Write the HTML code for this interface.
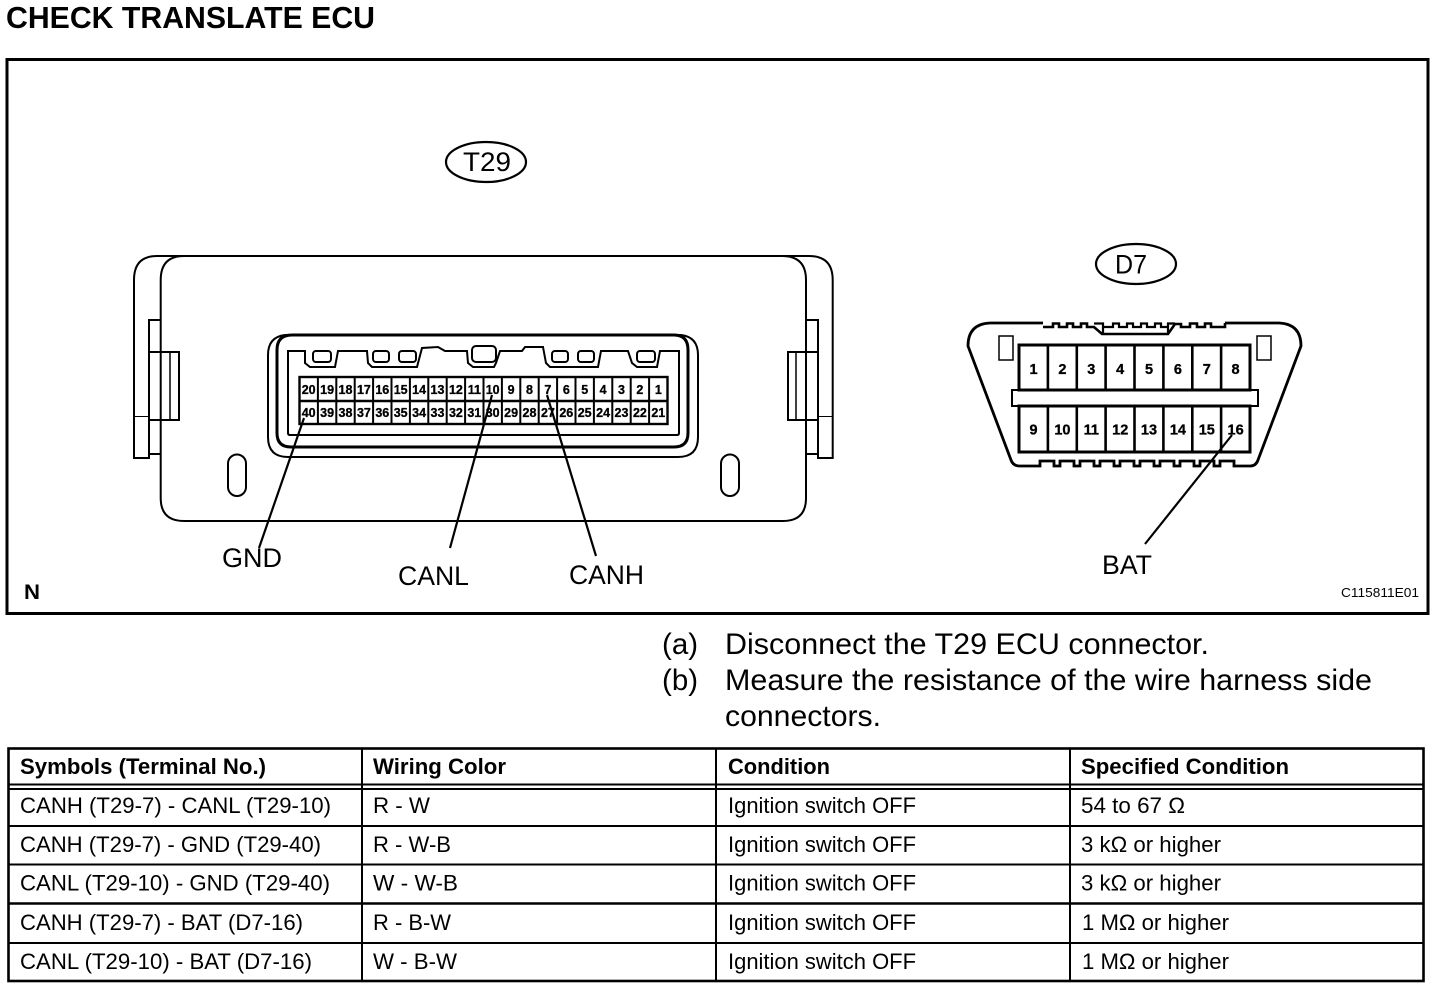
<!DOCTYPE html>
<html lang="en">
<head>
<meta charset="utf-8">
<title>Check Translate ECU</title>
<style>
html,body{margin:0;padding:0;background:#fff;width:1456px;height:990px;overflow:hidden}
svg{display:block;position:absolute;left:0;top:0}
text{font-family:"Liberation Sans",Arial,sans-serif;fill:#000}
.b{font-weight:bold}
.n{font-size:12.5px;font-weight:bold;text-anchor:middle;stroke:#000;stroke-width:.3px}
.m{font-size:14.5px;font-weight:bold;text-anchor:middle;stroke:#000;stroke-width:.3px}
.t{font-size:22.3px}
.h{font-size:22px;font-weight:bold}
.i{font-size:29.5px}
.l{font-size:26.5px}
path,line,rect,ellipse{fill:none;stroke:#000}
</style>
</head>
<body>
<svg width="1456" height="990" viewBox="0 0 1456 990" xmlns="http://www.w3.org/2000/svg">
<text x="6" y="28" class="b" font-size="30.5" textLength="369" lengthAdjust="spacingAndGlyphs">CHECK TRANSLATE ECU</text>
<rect x="7" y="59.5" width="1421" height="554" stroke-width="3"/>

<!-- T29 body -->
<g stroke-width="2">
<path d="M160.7 280 Q160.7 256 184 256 H782 Q806 256 806 280 V498 Q806 521 783 521 H184 Q160.7 521 160.7 498 Z"/>
<path d="M184 256 H157 Q134 256 134 280 V458 H149 V320 H160.7 M149 454 H160.7"/>
<path d="M134 416.5 H149" stroke-width="1"/>
<path d="M149 352 H179 V420 H149"/>
<path d="M170 352 V420" stroke-width="1.5"/>
<path d="M782 256 H809 Q832.7 256 832.7 280 V458 H818 V320 H806 M818 454 H806"/>
<path d="M818 416.5 H832.7" stroke-width="1"/>
<path d="M818 352 H788 V420 H818"/>
<path d="M796 352 V420" stroke-width="1.5"/>
<rect x="228" y="454.5" width="18" height="41.5" rx="9"/>
<rect x="721" y="454.5" width="18" height="41.5" rx="9"/>
</g>

<!-- T29 connector -->
<path d="M290 335 H285 Q268 337 268 355 V437 Q268 457 288 457 H678 Q698 457 698 437 V355 Q698 337 681 335 H676" stroke-width="2"/>
<path d="M292 335 H674 Q688 335 688 350 V433 Q688 447 674 447 H291 Q277 447 277 433 V350 Q277 335 292 335 Z" stroke-width="3"/>
<path d="M288 351 H305 V363 L310 367 H335 L338 351 H367 L368 363 L372 367 H417 L422 348 L438 347 L445 351 H467 L468 363 L473 367 H494 L496 363 L500 351 H522 L525 347 H543 L546 363 L550 367 H598 L601 351 H628 L632 363 L637 367 H657 L660 351 H679 V433 Q679 435 677 435 H290 Q288 435 288 433 Z" stroke-width="2"/>
<g stroke-width="2">
<rect x="313" y="351" width="18" height="11" rx="3"/>
<rect x="373" y="351" width="16" height="11" rx="3"/>
<rect x="399" y="351" width="17" height="11" rx="3"/>
<rect x="472" y="346" width="24" height="16" rx="4"/>
<rect x="552" y="351" width="16" height="11" rx="3"/>
<rect x="578" y="351" width="16" height="11" rx="3"/>
<rect x="637" y="351" width="18" height="11" rx="3"/>
</g>
<rect x="299.5" y="377" width="368" height="47" stroke-width="2.4"/>
<path d="M299.5 401 H667.5" stroke-width="2.4"/>
<path d="M317.9 377V424M336.3 377V424M354.7 377V424M373.1 377V424M391.5 377V424M409.9 377V424M428.3 377V424M446.7 377V424M465.1 377V424M483.5 377V424M501.9 377V424M520.3 377V424M538.7 377V424M557.1 377V424M575.5 377V424M593.9 377V424M612.3 377V424M630.7 377V424M649.1 377V424" stroke-width="2"/>
<g>
<text class="n" x="308.7" y="394">20</text><text class="n" x="327.1" y="394">19</text><text class="n" x="345.5" y="394">18</text><text class="n" x="363.9" y="394">17</text><text class="n" x="382.3" y="394">16</text><text class="n" x="400.7" y="394">15</text><text class="n" x="419.1" y="394">14</text><text class="n" x="437.5" y="394">13</text><text class="n" x="455.9" y="394">12</text><text class="n" x="474.3" y="394">11</text><text class="n" x="492.7" y="394">10</text><text class="n" x="511.1" y="394">9</text><text class="n" x="529.5" y="394">8</text><text class="n" x="547.9" y="394">7</text><text class="n" x="566.3" y="394">6</text><text class="n" x="584.7" y="394">5</text><text class="n" x="603.1" y="394">4</text><text class="n" x="621.5" y="394">3</text><text class="n" x="639.9" y="394">2</text><text class="n" x="658.3" y="394">1</text>
<text class="n" x="308.7" y="417">40</text><text class="n" x="327.1" y="417">39</text><text class="n" x="345.5" y="417">38</text><text class="n" x="363.9" y="417">37</text><text class="n" x="382.3" y="417">36</text><text class="n" x="400.7" y="417">35</text><text class="n" x="419.1" y="417">34</text><text class="n" x="437.5" y="417">33</text><text class="n" x="455.9" y="417">32</text><text class="n" x="474.3" y="417">31</text><text class="n" x="492.7" y="417">30</text><text class="n" x="511.1" y="417">29</text><text class="n" x="529.5" y="417">28</text><text class="n" x="547.9" y="417">27</text><text class="n" x="566.3" y="417">26</text><text class="n" x="584.7" y="417">25</text><text class="n" x="603.1" y="417">24</text><text class="n" x="621.5" y="417">23</text><text class="n" x="639.9" y="417">22</text><text class="n" x="658.3" y="417">21</text>
</g>

<!-- D7 connector -->
<path d="M1043 323 H990 Q968 324 968 346 L1011 460 Q1013 466 1020 466 H1040 V461 H1054 V466 H1060 V461 H1074 V466 H1080 V461 H1094 V466 H1100 V461 H1114 V466 H1120 V461 H1134 V466 H1140 V461 H1154 V466 H1160 V461 H1174 V466 H1180 V461 H1194 V466 H1200 V461 H1214 V466 H1220 V461 H1234 V466 H1250 Q1256 466 1258 460 L1301 346 Q1301 324 1279 323 H1225" stroke-width="2.8"/>
<path d="M1043 327 H1053 V323.5 H1059 V327 H1067 V323.5 H1073 V327 H1081 V323.5 H1087 V327 H1094 L1102 334 H1168 L1175 324 H1181 V327 H1190 V323.5 H1197 V327 H1205 V323.5 H1211 V327 H1225 V323" stroke-width="2.6"/>
<path d="M1094 323.5 H1103 V334 M1168 334 V323.5 H1175 M1103 327 H1113 V323.5 H1119 V327 H1127 V323.5 H1133 V327 H1141 V323.5 H1147 V327 H1155 V323.5 H1161 V327 H1168" stroke-width="2.2"/>
<rect x="999" y="336" width="14" height="24" stroke-width="1.5"/>
<rect x="1257" y="336" width="14" height="24" stroke-width="1.5"/>
<rect x="1019" y="345" width="231" height="45" stroke-width="3"/>
<rect x="1019" y="406" width="231" height="46" stroke-width="3"/>
<rect x="1012" y="390" width="246" height="16" stroke-width="2"/>
<path d="M1047.9 345V390M1076.8 345V390M1105.6 345V390M1134.5 345V390M1163.4 345V390M1192.3 345V390M1221.1 345V390M1047.9 406V452M1076.8 406V452M1105.6 406V452M1134.5 406V452M1163.4 406V452M1192.3 406V452M1221.1 406V452" stroke-width="2.6"/>
<text class="m" x="1033.5" y="374">1</text><text class="m" x="1062.4" y="374">2</text><text class="m" x="1091.3" y="374">3</text><text class="m" x="1120.2" y="374">4</text><text class="m" x="1149" y="374">5</text><text class="m" x="1177.9" y="374">6</text><text class="m" x="1206.8" y="374">7</text><text class="m" x="1235.6" y="374">8</text>
<text class="m" x="1033.5" y="434.5">9</text><text class="m" x="1062.4" y="434.5">10</text><text class="m" x="1091.3" y="434.5">11</text><text class="m" x="1120.2" y="434.5">12</text><text class="m" x="1149" y="434.5">13</text><text class="m" x="1177.9" y="434.5">14</text><text class="m" x="1206.8" y="434.5">15</text><text class="m" x="1235.6" y="434.5">16</text>

<!-- Leaders -->
<g stroke-width="2.2">
<line x1="304" y1="418" x2="259" y2="548"/>
<line x1="492" y1="395" x2="450" y2="548"/>
<line x1="547" y1="395" x2="596" y2="556"/>
<line x1="1232" y1="435" x2="1145" y2="544"/>
</g>

<!-- Labels -->
<ellipse cx="486" cy="162" rx="40" ry="20" stroke-width="2.2"/>
<ellipse cx="1136" cy="264" rx="40" ry="20" stroke-width="2.2"/>
<text x="463" y="171" class="l" textLength="48" lengthAdjust="spacingAndGlyphs">T29</text>
<text x="1115" y="273.5" class="l" textLength="32" lengthAdjust="spacingAndGlyphs">D7</text>
<text x="222" y="567" class="l" textLength="60" lengthAdjust="spacingAndGlyphs">GND</text>
<text x="398" y="585" class="l" textLength="71" lengthAdjust="spacingAndGlyphs">CANL</text>
<text x="569" y="584" class="l" textLength="75" lengthAdjust="spacingAndGlyphs">CANH</text>
<text x="1102" y="574" class="l" textLength="50" lengthAdjust="spacingAndGlyphs">BAT</text>
<text x="24" y="599" class="b" font-size="21" textLength="16" lengthAdjust="spacingAndGlyphs">N</text>
<text x="1341" y="597" font-size="12.5" textLength="78" lengthAdjust="spacingAndGlyphs">C115811E01</text>

<!-- Instructions -->
<text x="662" y="654" class="i">(a)</text>
<text x="725" y="654" class="i" textLength="484" lengthAdjust="spacingAndGlyphs">Disconnect the T29 ECU connector.</text>
<text x="662" y="690" class="i">(b)</text>
<text x="725" y="690" class="i" textLength="647" lengthAdjust="spacingAndGlyphs">Measure the resistance of the wire harness side</text>
<text x="725" y="726" class="i" textLength="156" lengthAdjust="spacingAndGlyphs">connectors.</text>

<!-- Table -->
<rect x="8.5" y="748.5" width="1415" height="232.5" stroke-width="2.6"/>
<path d="M8 784.5 H1424 M8 789 H1424" stroke-width="2"/>
<path d="M8 826 H1424 M8 864.5 H1424 M8 943 H1424" stroke-width="2"/>
<path d="M8 903.5 H1424" stroke-width="2.6"/>
<path d="M362 748 V981 M716 748 V981 M1070 748 V981" stroke-width="2"/>

<text x="20" y="774" class="h" textLength="246" lengthAdjust="spacingAndGlyphs">Symbols (Terminal No.)</text>
<text x="373" y="774" class="h" textLength="133" lengthAdjust="spacingAndGlyphs">Wiring Color</text>
<text x="728" y="774" class="h" textLength="102" lengthAdjust="spacingAndGlyphs">Condition</text>
<text x="1081" y="774" class="h" textLength="208" lengthAdjust="spacingAndGlyphs">Specified Condition</text>

<text x="20" y="813" class="t" textLength="311" lengthAdjust="spacingAndGlyphs">CANH (T29-7) - CANL (T29-10)</text>
<text x="373" y="813" class="t" textLength="57" lengthAdjust="spacingAndGlyphs">R - W</text>
<text x="728" y="813" class="t" textLength="188" lengthAdjust="spacingAndGlyphs">Ignition switch OFF</text>
<text x="1081" y="813" class="t" textLength="104" lengthAdjust="spacingAndGlyphs">54 to 67 Ω</text>

<text x="20" y="852" class="t" textLength="301" lengthAdjust="spacingAndGlyphs">CANH (T29-7) - GND (T29-40)</text>
<text x="373" y="852" class="t" textLength="78" lengthAdjust="spacingAndGlyphs">R - W-B</text>
<text x="728" y="852" class="t" textLength="188" lengthAdjust="spacingAndGlyphs">Ignition switch OFF</text>
<text x="1081" y="852" class="t" textLength="140" lengthAdjust="spacingAndGlyphs">3 kΩ or higher</text>

<text x="20" y="890.5" class="t" textLength="310" lengthAdjust="spacingAndGlyphs">CANL (T29-10) - GND (T29-40)</text>
<text x="373" y="890.5" class="t" textLength="85" lengthAdjust="spacingAndGlyphs">W - W-B</text>
<text x="728" y="890.5" class="t" textLength="188" lengthAdjust="spacingAndGlyphs">Ignition switch OFF</text>
<text x="1081" y="890.5" class="t" textLength="140" lengthAdjust="spacingAndGlyphs">3 kΩ or higher</text>

<text x="20" y="930" class="t" textLength="283" lengthAdjust="spacingAndGlyphs">CANH (T29-7) - BAT (D7-16)</text>
<text x="373" y="930" class="t" textLength="78" lengthAdjust="spacingAndGlyphs">R - B-W</text>
<text x="728" y="930" class="t" textLength="188" lengthAdjust="spacingAndGlyphs">Ignition switch OFF</text>
<text x="1082" y="930" class="t" textLength="147" lengthAdjust="spacingAndGlyphs">1 MΩ or higher</text>

<text x="20" y="969" class="t" textLength="292" lengthAdjust="spacingAndGlyphs">CANL (T29-10) - BAT (D7-16)</text>
<text x="373" y="969" class="t" textLength="84" lengthAdjust="spacingAndGlyphs">W - B-W</text>
<text x="728" y="969" class="t" textLength="188" lengthAdjust="spacingAndGlyphs">Ignition switch OFF</text>
<text x="1082" y="969" class="t" textLength="147" lengthAdjust="spacingAndGlyphs">1 MΩ or higher</text>
</svg>
</body>
</html>
